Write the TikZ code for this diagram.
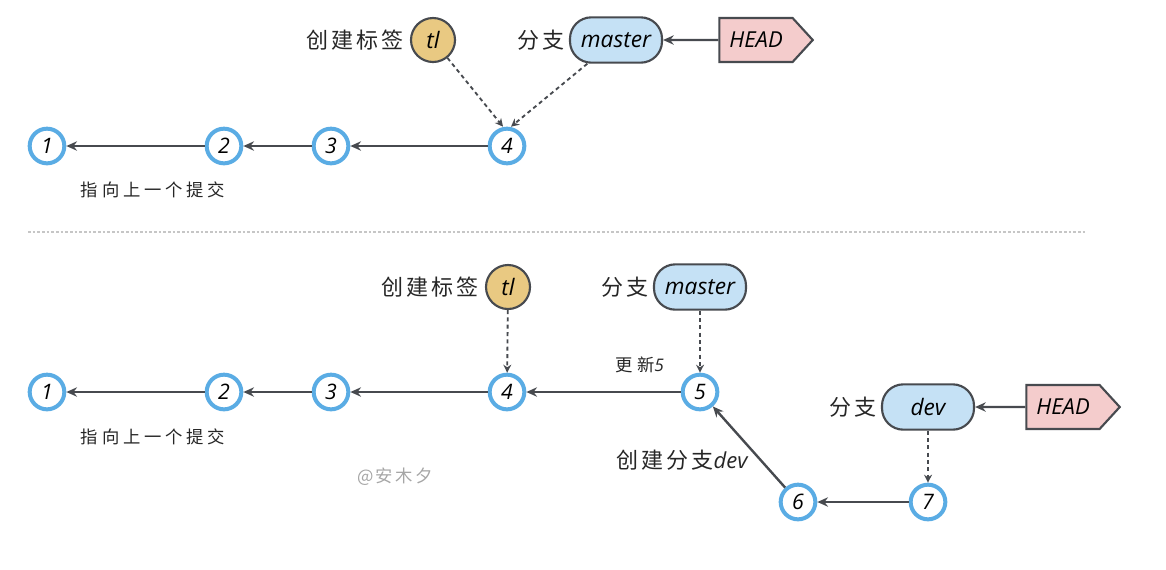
\documentclass[tikz,border=0pt]{standalone}
\usepackage{fontspec}
\newfontfamily\cjk[LetterSpace=14]{Noto Sans CJK SC}
\newfontfamily\cjksmall[LetterSpace=22]{Noto Sans CJK SC}
\newfontfamily\hand{Open Sans}
\usepackage{tikz}
\usetikzlibrary{arrows.meta, shapes.symbols, positioning}

\definecolor{ringblue}{HTML}{5AACE4}
\definecolor{inkgray}{HTML}{474A4F}
\definecolor{tagfill}{HTML}{E9C982}
\definecolor{branchfill}{HTML}{C5E1F5}
\definecolor{headfill}{HTML}{F4CCCC}

\begin{document}
\begin{tikzpicture}[x=0.75pt, y=-0.75pt,
    commit/.style={circle, draw=ringblue, line width=3pt, fill=white, minimum size=26pt, inner sep=0pt, font=\hand\itshape\fontsize{16}{16}\selectfont},
    tag/.style={circle, draw=inkgray, line width=1.6pt, fill=tagfill, minimum size=33pt, inner sep=0pt, font=\hand\itshape\fontsize{17}{17}\selectfont},
    branch/.style={draw=inkgray, line width=1.6pt, fill=branchfill, rounded corners=16pt, minimum width=69pt, minimum height=34pt, inner sep=2pt, font=\hand\itshape\fontsize{17}{17}\selectfont},
    head/.style={signal, signal to=east, signal pointer angle=95, draw=inkgray, line width=1.6pt, fill=headfill, minimum height=33pt, minimum width=70pt, inner sep=2pt, font=\hand\itshape\fontsize{16.5}{17}\selectfont},
    note/.style={font=\cjk\fontsize{16.5}{17}\selectfont, text=black!85},
    small/.style={font=\cjksmall\fontsize{13}{13}\selectfont, text=black!85},
    link/.style={draw=inkgray, line width=1.8pt, -{Stealth[length=8pt, width=7pt]}},
    ptr/.style={draw=inkgray, line width=1.4pt, dashed, dash pattern=on 3pt off 2.5pt, -{Stealth[length=6pt, width=6pt]}}]
    \useasboundingbox (0,0) rectangle (1166,569);

    % upper graph
    \node[commit] (a1) at (47,146) {1};
    \node[commit] (a2) at (224,146) {2};
    \node[commit] (a3) at (331,146) {3};
    \node[commit] (a4) at (507,146) {4};
    \draw[link] (a2) -- (a1);
    \draw[link] (a3) -- (a2);
    \draw[link] (a4) -- (a3);
    \node[small] (aprev) at (153,190) {指向上一个提交};

    \node[tag] (atl) at (433,40) {tl};
    \node[note, left=1pt of atl] (atltxt) {创建标签};
    \node[branch] (amst) at (616,40) {master};
    \node[note, left=0pt of amst] (amsttxt) {分支};
    \node[head] (ahead) at (756,40) {HEAD};
    \draw[link] (ahead) -- (amst);
    \draw[ptr] (atl) -- ([xshift=-3pt]a4.north);
    \draw[ptr] (amst) -- ([xshift=3pt]a4.north);

    % separator
    \coordinate (sepL) at (28,232);
    \coordinate (sepR) at (1085,232);
    \draw[gray!45, line width=0.8pt, dash pattern=on 2pt off 1.5pt] (sepL) -- (sepR);

    % lower graph
    \node[commit] (b1) at (47,392) {1};
    \node[commit] (b2) at (224,392) {2};
    \node[commit] (b3) at (331,392) {3};
    \node[commit] (b4) at (507,392) {4};
    \node[commit] (b5) at (700,392) {5};
    \node[commit] (b6) at (798,502) {6};
    \node[commit] (b7) at (928,502) {7};
    \draw[link] (b2) -- (b1);
    \draw[link] (b3) -- (b2);
    \draw[link] (b4) -- (b3);
    \draw[link] (b5) -- (b4);
    \draw[link] (b6) -- (b5);
    \draw[link] (b7) -- (b6);
    \node[small] (bprev) at (153,437) {指向上一个提交};
    \node[small] (bnew) at (640,365) {更新{\hand\itshape 5}};
    \node[note] (bfork) at (682,460) {创建分支{\hand\itshape dev}};

    \node[tag] (btl) at (508,287) {tl};
    \node[note, left=1pt of btl] (btltxt) {创建标签};
    \node[branch] (bmst) at (700,287) {master};
    \node[note, left=0pt of bmst] (bmsttxt) {分支};
    \node[branch] (bdev) at (928,407) {dev};
    \node[note, left=0pt of bdev] (bdevtxt) {分支};
    \node[head] (bhead) at (1063,407) {HEAD};
    \draw[link] (bhead) -- (bdev);
    \draw[ptr] (btl) -- (b4);
    \draw[ptr] (bmst) -- (b5);
    \draw[ptr] (bdev) -- (b7);

    \node[font=\cjk\fontsize{13}{13}\selectfont, text=gray!70] (mark) at (395,477) {@安木夕};
\end{tikzpicture}
\end{document}
